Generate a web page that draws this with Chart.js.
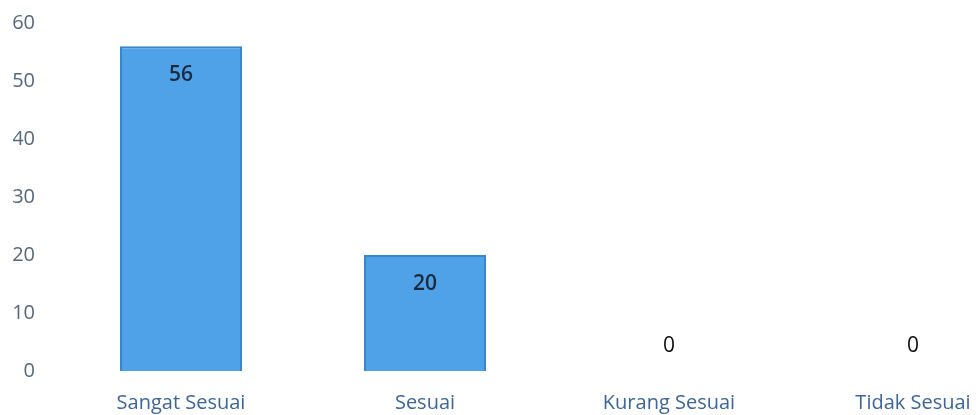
<!DOCTYPE html>
<html>
<head>
<meta charset="utf-8">
<script src="https://cdn.jsdelivr.net/npm/chart.js@4.4.1/dist/chart.umd.min.js"></script>
<style>
  html, body { margin: 0; padding: 0; background: #fff; overflow: hidden; }
  #wrap { width: 1040px; height: 415px; }
</style>
</head>
<body>
<div id="wrap"><canvas id="graph" width="1040" height="415"></canvas></div>
<script>
// categories and counts
const categories = ['Sangat Sesuai', 'Sesuai', 'Kurang Sesuai', 'Tidak Sesuai'];
const counts = [56, 20, 0, 0];
const yTicks = [0, 10, 20, 30, 40, 50, 60];

// value labels: inside the top of a bar, or just above the axis for zero
const valueLabels = {
    id: 'valueLabels',
    afterDatasetsDraw(chart) {
        const ctx = chart.ctx;
        const meta = chart.getDatasetMeta(0);
        ctx.save();
        ctx.textAlign = 'center';
        ctx.textBaseline = 'middle';
        meta.data.forEach((bar, i) => {
            const v = counts[i];
            if (v > 0) {
                ctx.font = '600 21px "Open Sans", sans-serif';
                ctx.fillStyle = '#1c2a3d';
                ctx.fillText(String(v), bar.x, bar.y + 29);
            } else {
                ctx.font = '500 21px "Open Sans", sans-serif';
                ctx.fillStyle = '#0d0d0d';
                ctx.fillText(String(v), bar.x, bar.y - 25);
            }
        });
        ctx.restore();
    }
};

const graphCtx = document.getElementById('graph').getContext('2d');

new Chart(graphCtx, {
    type: 'bar',
    data: {
        labels: categories,
        datasets: [{
            data: counts,
            backgroundColor: '#4fa1e8',
            borderColor: '#3b85cc',
            borderWidth: 2,
            barPercentage: 0.5,
            categoryPercentage: 1
        }]
    },
    options: {
        responsive: false,
        animation: false,
        layout: { padding: { left: 13, top: 23, right: 5, bottom: 0 } },
        plugins: {
            legend: { display: false },
            tooltip: { enabled: false }
        },
        scales: {
            x: {
                grid: { display: false, drawTicks: false },
                border: { display: false },
                ticks: {
                    color: '#3d6597',
                    font: { family: '"Open Sans", sans-serif', size: 20 },
                    padding: 20,
                    maxRotation: 0
                },
                afterFit: (axis) => {
                    axis.height = 44;
                    axis.paddingLeft = 0;
                    axis.paddingRight = 0;
                }
            },
            y: {
                min: 0,
                max: 60,
                afterBuildTicks: (axis) => {
                    axis.ticks = yTicks.map(v => ({ value: v }));
                },
                grid: { display: false, drawTicks: false },
                border: { display: false },
                ticks: {
                    color: '#57677d',
                    font: { family: '"Open Sans", sans-serif', size: 20 },
                    padding: 24
                },
                afterFit: (axis) => {
                    axis.width = 46;
                    axis.paddingTop = 0;
                    axis.paddingBottom = 0;
                }
            }
        }
    },
    plugins: [valueLabels]
});
</script>
</body>
</html>
